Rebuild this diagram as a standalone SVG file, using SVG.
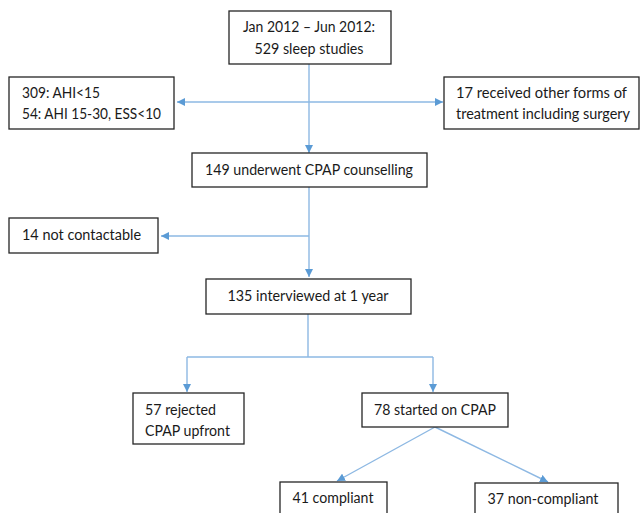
<svg xmlns="http://www.w3.org/2000/svg" width="640" height="513" viewBox="0 0 640 513">
<defs>
<marker id="ah" viewBox="0 0 10 10" refX="10" refY="5" markerWidth="8" markerHeight="8" markerUnits="userSpaceOnUse" orient="auto-start-reverse">
<path d="M0,0 L10,5 L0,10 z" fill="#5b9bd5"/>
</marker>
<style>
.box{fill:#fff;stroke:#262626;stroke-width:1.3}
.t{font-family:Lato,"Open Sans","Liberation Sans",sans-serif;font-size:14.5px;fill:#1a1a1a}
.c{text-anchor:middle}
.ln{fill:none;stroke:#8db8e3;stroke-width:1.4}
</style>
</defs>
<rect width="640" height="513" fill="#fff"/>
<g id="connectors">
<path class="ln" d="M309,63 V153" marker-end="url(#ah)"/>
<path class="ln" d="M177,102 H443" marker-start="url(#ah)" marker-end="url(#ah)"/>
<path class="ln" d="M309,187 V277" marker-end="url(#ah)"/>
<path class="ln" d="M309,236 H161" marker-end="url(#ah)"/>
<path class="ln" d="M308,314 V357"/>
<path class="ln" d="M187,357 H433"/>
<path class="ln" d="M187,357 V392" marker-end="url(#ah)"/>
<path class="ln" d="M433,357 V392" marker-end="url(#ah)"/>
<path class="ln" d="M435,427 L337,481" marker-end="url(#ah)"/>
<path class="ln" d="M435,427 L548,482" marker-end="url(#ah)"/>
</g>
<g id="n-start">
<rect class="box" x="229" y="11" width="162" height="53"/>
<text class="t c" x="309" y="32" textLength="132" lengthAdjust="spacingAndGlyphs">Jan 2012 – Jun 2012:</text>
<text class="t c" x="309" y="54" textLength="109" lengthAdjust="spacingAndGlyphs">529 sleep studies</text>
</g>
<g id="n-excluded">
<rect class="box" x="9" y="77" width="165" height="52"/>
<text class="t" x="22" y="98" textLength="78" lengthAdjust="spacingAndGlyphs">309: AHI&lt;15</text>
<text class="t" x="22" y="119" textLength="139" lengthAdjust="spacingAndGlyphs">54: AHI 15-30, ESS&lt;10</text>
</g>
<g id="n-other">
<rect class="box" x="444" y="77" width="195" height="52"/>
<text class="t" x="456" y="98" textLength="171" lengthAdjust="spacingAndGlyphs">17 received other forms of</text>
<text class="t" x="456" y="119" textLength="174" lengthAdjust="spacingAndGlyphs">treatment including surgery</text>
</g>
<g id="n-counselling">
<rect class="box" x="192" y="153" width="235" height="34"/>
<text class="t c" x="309" y="175" textLength="208" lengthAdjust="spacingAndGlyphs">149 underwent CPAP counselling</text>
</g>
<g id="n-notcontactable">
<rect class="box" x="9" y="218" width="149" height="35"/>
<text class="t" x="22" y="240" textLength="119" lengthAdjust="spacingAndGlyphs">14 not contactable</text>
</g>
<g id="n-interviewed">
<rect class="box" x="206" y="279" width="205" height="35"/>
<text class="t c" x="308" y="301" textLength="161" lengthAdjust="spacingAndGlyphs">135 interviewed at 1 year</text>
</g>
<g id="n-rejected">
<rect class="box" x="133" y="393" width="111" height="51"/>
<text class="t" x="145" y="415" textLength="71" lengthAdjust="spacingAndGlyphs">57 rejected</text>
<text class="t" x="145" y="436" textLength="85" lengthAdjust="spacingAndGlyphs">CPAP upfront</text>
</g>
<g id="n-started">
<rect class="box" x="362" y="393" width="146" height="34"/>
<text class="t c" x="435" y="415" textLength="122" lengthAdjust="spacingAndGlyphs">78 started on CPAP</text>
</g>
<g id="n-compliant">
<rect class="box" x="280" y="482" width="107" height="40"/>
<text class="t c" x="333" y="503" textLength="81" lengthAdjust="spacingAndGlyphs">41 compliant</text>
</g>
<g id="n-noncompliant">
<rect class="box" x="475" y="483" width="143" height="40"/>
<text class="t c" x="543" y="504" textLength="111" lengthAdjust="spacingAndGlyphs">37 non-compliant</text>
</g>
</svg>
